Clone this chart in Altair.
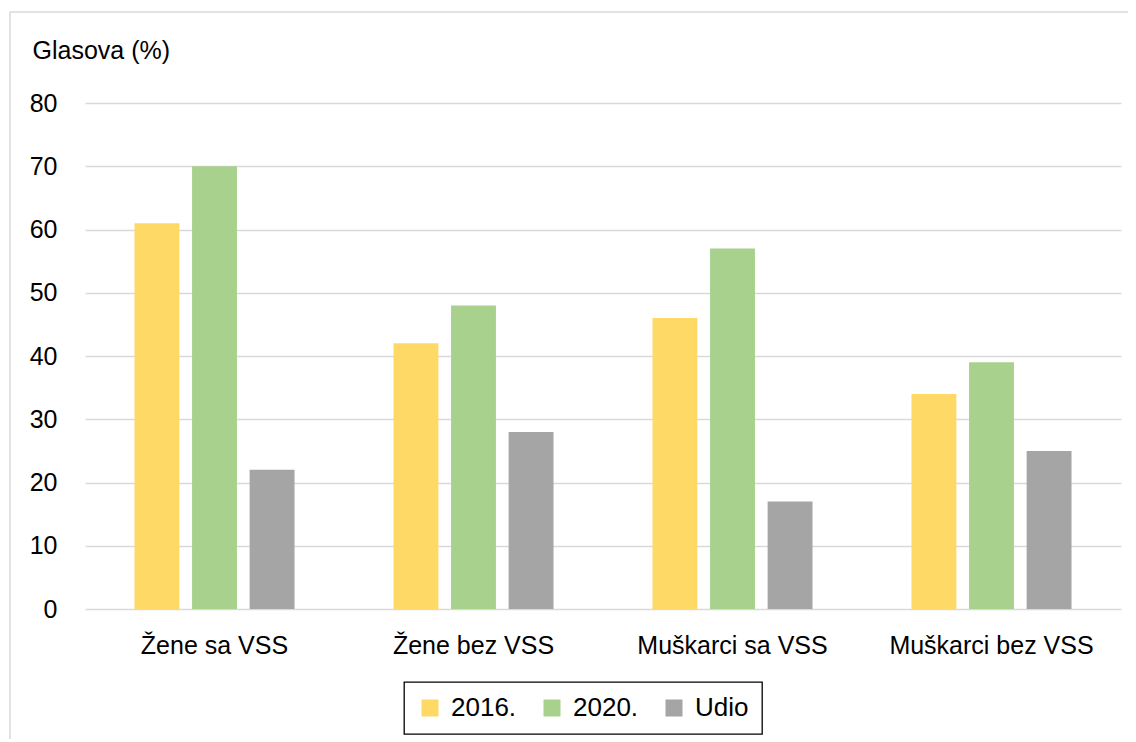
import altair as alt
import pandas as pd

categories = ["Žene sa VSS", "Žene bez VSS", "Muškarci sa VSS", "Muškarci bez VSS"]
series = ["2016.", "2020.", "Udio"]
v2016 = [61, 42, 46, 34]
v2020 = [70, 48, 57, 39]
udio = [22, 28, 17, 25]
colors = ["#FFD966", "#A9D18E", "#A5A5A5"]
y_ticks = [0, 10, 20, 30, 40, 50, 60, 70, 80]

rows = []
for i, c in enumerate(categories):
    for s, vals in zip(series, [v2016, v2020, udio]):
        rows.append({"kategorija": c, "serija": s, "vrijednost": vals[i]})
df = pd.DataFrame(rows)

FONT = "Liberation Sans"
W, H = 1036, 506

bars = alt.Chart(df).mark_bar().encode(
    x=alt.X("kategorija:N", sort=categories,
            scale=alt.Scale(paddingInner=0.382, paddingOuter=0.191),
            axis=alt.Axis(title=None, labelAngle=0, domain=False, ticks=False,
                          labelPadding=24, labelFontSize=25, labelColor="#000000",
                          labelFont=FONT, labelLimit=400)),
    xOffset=alt.XOffset("serija:N", sort=series,
                        scale=alt.Scale(paddingInner=0.22, paddingOuter=0)),
    y=alt.Y("vrijednost:Q",
            scale=alt.Scale(domain=[0, 80], nice=False),
            axis=alt.Axis(values=y_ticks, title="Glasova (%)", titleAngle=0,
                          titleAlign="left", titleBaseline="middle",
                          titleX=-53, titleY=-53, titleFontSize=25,
                          titleFontWeight="normal", titleFont=FONT, titleColor="#000000",
                          domain=False, ticks=False, labelPadding=28,
                          labelFontSize=25, labelFont=FONT, labelColor="#000000",
                          grid=True, gridColor="#D9D9D9", gridWidth=1.5)),
    color=alt.Color("serija:N", sort=series,
                    scale=alt.Scale(domain=series, range=colors),
                    legend=alt.Legend(title=None, orient="none", direction="horizontal",
                                      legendX=319, legendY=579, padding=13,
                                      strokeColor="#000000",
                                      symbolType="square", symbolSize=289,
                                      symbolStrokeWidth=0, labelFontSize=26,
                                      labelFont=FONT, labelColor="#000000",
                                      labelOffset=8, columnPadding=22)),
)

frame_df = pd.DataFrame({"f": [0]})
frame = alt.Chart(frame_df).mark_rect(filled=False, stroke="#D9D9D9", strokeWidth=1.5).encode(
    x=alt.value(-75), x2=alt.value(W + 100), y=alt.value(-91), y2=alt.value(H + 300)
)

chart = alt.layer(frame, bars).properties(
    width=W, height=H,
    autosize=alt.AutoSizeParams(type="none"),
    padding={"left": 77, "top": 95, "right": 7, "bottom": 130},
    background="#FFFFFF",
).configure_view(stroke=None).configure_legend(strokeWidth=1.3)

chart.save("out.html", embed_options={"renderer": "svg", "actions": False})
